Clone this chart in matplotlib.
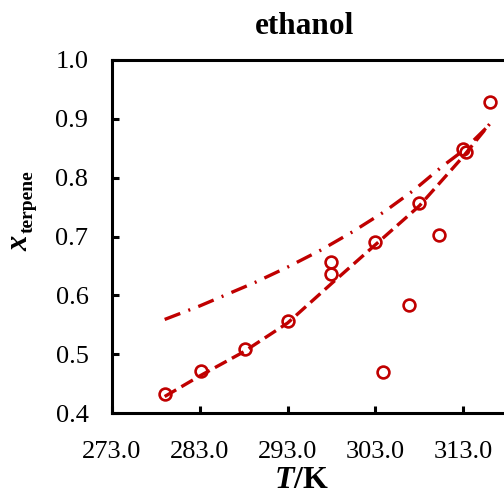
import matplotlib
matplotlib.use("Agg")
import matplotlib.pyplot as plt

# experimental solubility points (T in K, mole fraction of terpene)
exp_T = [279.0, 283.1, 288.1, 293.0, 298.0, 298.0, 303.0, 303.9, 306.8,
         308.0, 310.2, 313.0, 313.3, 316.0]
exp_x = [0.432, 0.471, 0.508, 0.557, 0.657, 0.636, 0.690, 0.470, 0.584,
         0.757, 0.702, 0.849, 0.844, 0.929]

# model curves
fit_T = [279.0, 283.0, 288.0, 293.0, 298.0, 303.0, 308.0, 313.0, 316.0]
fit_dashed = [0.428, 0.463, 0.504, 0.553, 0.620, 0.686, 0.752, 0.836, 0.891]
ideal_T = [279.0, 283.0, 289.3, 293.0, 296.8, 300.4, 304.0, 307.4, 310.6,
           313.0, 316.0]
ideal_x = [0.559, 0.582, 0.622, 0.648, 0.677, 0.708, 0.742, 0.779, 0.819,
           0.846, 0.890]

x_ticks = [273.0, 283.0, 293.0, 303.0, 313.0]
y_ticks = [0.4, 0.5, 0.6, 0.7, 0.8, 0.9, 1.0]

red = "#C00000"
W, H = 504, 496

plt.rcParams["font.family"] = ["Liberation Serif", "DejaVu Serif"]
plt.rcParams["mathtext.fontset"] = "custom"
plt.rcParams["mathtext.rm"] = "Liberation Serif:bold"
plt.rcParams["mathtext.it"] = "Liberation Serif:italic:bold"
plt.rcParams["mathtext.bf"] = "Liberation Serif:bold"

fig = plt.figure(figsize=(W / 100, H / 100), dpi=100)
ax = fig.add_axes([112 / W, 1 - 413 / H, 439 / W, 353 / H])

ax.plot(ideal_T, ideal_x, color=red, lw=2.4, dashes=(5, 2.6, 0.6, 2.6))
ax.plot(fit_T, fit_dashed, color=red, lw=2.4, dashes=(4, 1.8))
ax.plot(exp_T, exp_x, linestyle="none", marker="o", ms=8.5, mfc="none",
        mec=red, mew=1.9)

ax.set_xlim(273, 323)
ax.set_ylim(0.4, 1.0)
ax.set_xticks(x_ticks)
ax.set_xticklabels(["%.1f" % t for t in x_ticks])
ax.set_yticks(y_ticks)
ax.set_yticklabels(["%.1f" % v for v in y_ticks])

for s in ax.spines.values():
    s.set_linewidth(2.2)
ax.tick_params(direction="in", length=5, width=2.2, labelsize=19)
ax.tick_params(axis="x", pad=20)
ax.tick_params(axis="y", pad=17)

fig.text(305 / W, 1 - 26 / H, "ethanol", fontsize=22.5, fontweight="bold",
         ha="center", va="center")
fig.text(301 / W, 1 - 481 / H, r"$T$/K", fontsize=23, fontweight="bold",
         ha="center", va="center")
fig.text(20 / W, 1 - 243 / H, "x", fontsize=22, fontweight="bold",
         fontstyle="italic", rotation=90, ha="center", va="center")
fig.text(28 / W, 1 - 202 / H, "terpene", fontsize=14, fontweight="bold",
         rotation=90, ha="center", va="center")

fig.savefig("out.png", dpi=100)
